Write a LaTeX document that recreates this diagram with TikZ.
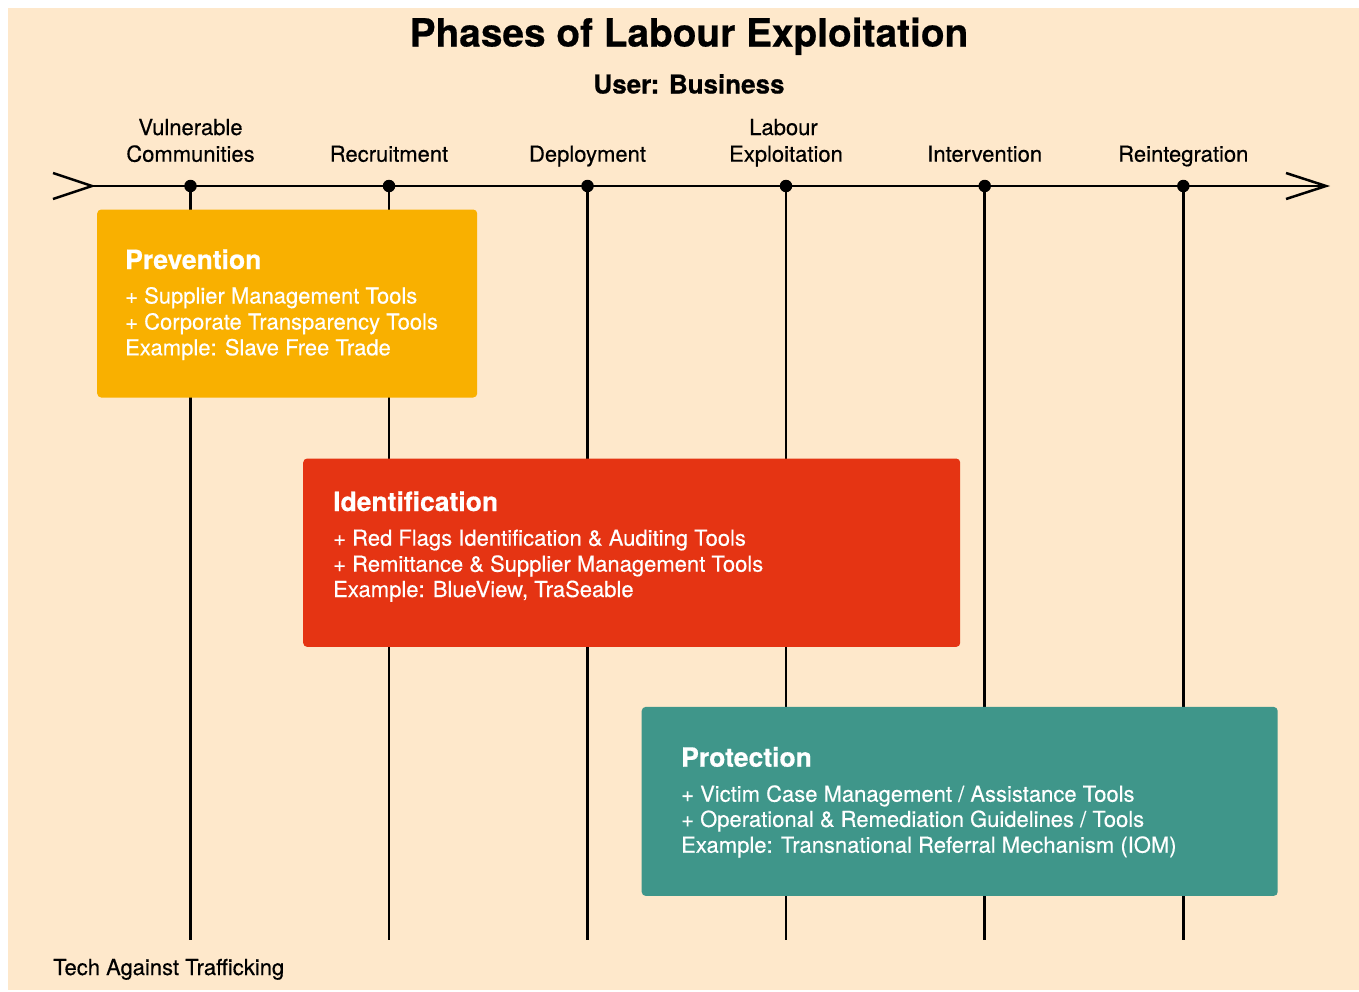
\documentclass[tikz,border=0pt]{standalone}
\usepackage{fontspec}
\setmainfont{TeX Gyre Heros}
\newfontfamily\medfont[FakeBold=0.35]{texgyreheros-regular.otf}
\newfontfamily\heavyfont[FakeBold=0.5]{texgyreheros-bold.otf}
\definecolor{bg}{HTML}{FEE8CB}
\definecolor{prevc}{HTML}{F9B000}
\definecolor{identc}{HTML}{E53413}
\definecolor{protc}{HTML}{3F968A}
\tikzset{
  axis/.style={line width=2.5pt, black},
  dotnode/.style={circle, fill=black, inner sep=0pt, minimum size=12.5pt},
  phasebox/.style={rounded corners=4pt, inner sep=0pt, anchor=north west, draw=none},
  phaselab/.style={anchor=base, inner sep=0pt, font=\medfont\fontsize{22}{26}\selectfont, text=black},
  boxtitle/.style={anchor=base west, inner sep=0pt, text=white, font=\heavyfont\fontsize{26.5}{30}\selectfont},
  boxline/.style={anchor=base west, inner sep=0pt, text=white, font=\medfont\fontsize{22}{26}\selectfont},
}
\begin{document}
\begin{tikzpicture}[x=1pt,y=-1pt]
\useasboundingbox (0,0) rectangle (1359,991);
\fill[bg] (8,8) rectangle (1359,990);

% title
\node[anchor=base, inner sep=0pt, font=\heavyfont\fontsize{38.8}{44}\selectfont] (title) at (689,46.5) {Phases of Labour Exploitation};
\node[anchor=base, inner sep=0pt, font=\heavyfont\fontsize{26}{30}\selectfont] (user) at (689,93.5) {User: Business};

% timeline
\coordinate (tail) at (92,186);
\coordinate (head) at (1326,186);
\coordinate (tailA) at (53,173);
\coordinate (tailB) at (53,199);
\coordinate (headA) at (1286,173);
\coordinate (headB) at (1286,199);
\draw[axis] (tail) -- (head);
\draw[axis, line join=miter] (tailA) -- (tail) -- (tailB);
\draw[axis, line join=miter] (headA) -- (head) -- (headB);

\foreach \i/\x in {1/190.5,2/389,3/587.5,4/786,5/984.7,6/1183.3}{
  \coordinate (b\i) at (\x,940);
  \node[dotnode] (d\i) at (\x,186) {};
  \draw[axis] (d\i.center) -- (b\i);
}

% phase labels
\node[phaselab] (l1a) at (190.5,135) {Vulnerable};
\node[phaselab] (l1b) at (190.5,161.7) {Communities};
\node[phaselab] (l2) at (389,161.7) {Recruitment};
\node[phaselab] (l3) at (587.5,161.7) {Deployment};
\node[phaselab] (l4a) at (783.5,135) {Labour};
\node[phaselab] (l4b) at (786,161.7) {Exploitation};
\node[phaselab] (l5) at (984.7,161.7) {Intervention};
\node[phaselab] (l6) at (1183.3,161.7) {Reintegration};

% Prevention
\node[phasebox, fill=prevc, minimum width=380pt, minimum height=188pt] (prev) at (97,209.3) {};
\node[boxtitle] (prevt) at (125,269) {Prevention};
\node[boxline] (prev1) at (125,303.5) {+ Supplier Management Tools};
\node[boxline] (prev2) at (125,329.5) {+ Corporate Transparency Tools};
\node[boxline] (prev3) at (125,355.3) {Example: Slave Free Trade};

% Identification
\node[phasebox, fill=identc, minimum width=657pt, minimum height=188.4pt] (ident) at (303,458.3) {};
\node[boxtitle] (identt) at (333,511) {Identification};
\node[boxline] (ident1) at (333,545.7) {+ Red Flags Identification \& Auditing Tools};
\node[boxline] (ident2) at (333,571.7) {+ Remittance \& Supplier Management Tools};
\node[boxline] (ident3) at (333,597) {Example: BlueView, TraSeable};

% Protection
\node[phasebox, fill=protc, minimum width=636pt, minimum height=189pt] (prot) at (641.5,706.7) {};
\node[boxtitle] (prott) at (681,766.7) {Protection};
\node[boxline] (prot1) at (681,801.7) {+ Victim Case Management / Assistance Tools};
\node[boxline] (prot2) at (681,826.9) {+ Operational \& Remediation Guidelines / Tools};
\node[boxline] (prot3) at (681,852.7) {Example: Transnational Referral Mechanism (IOM)};

% footer
\node[anchor=base west, inner sep=0pt, font=\medfont\fontsize{22}{26}\selectfont] (foot) at (53,975) {Tech Against Trafficking};
\end{tikzpicture}
\end{document}
